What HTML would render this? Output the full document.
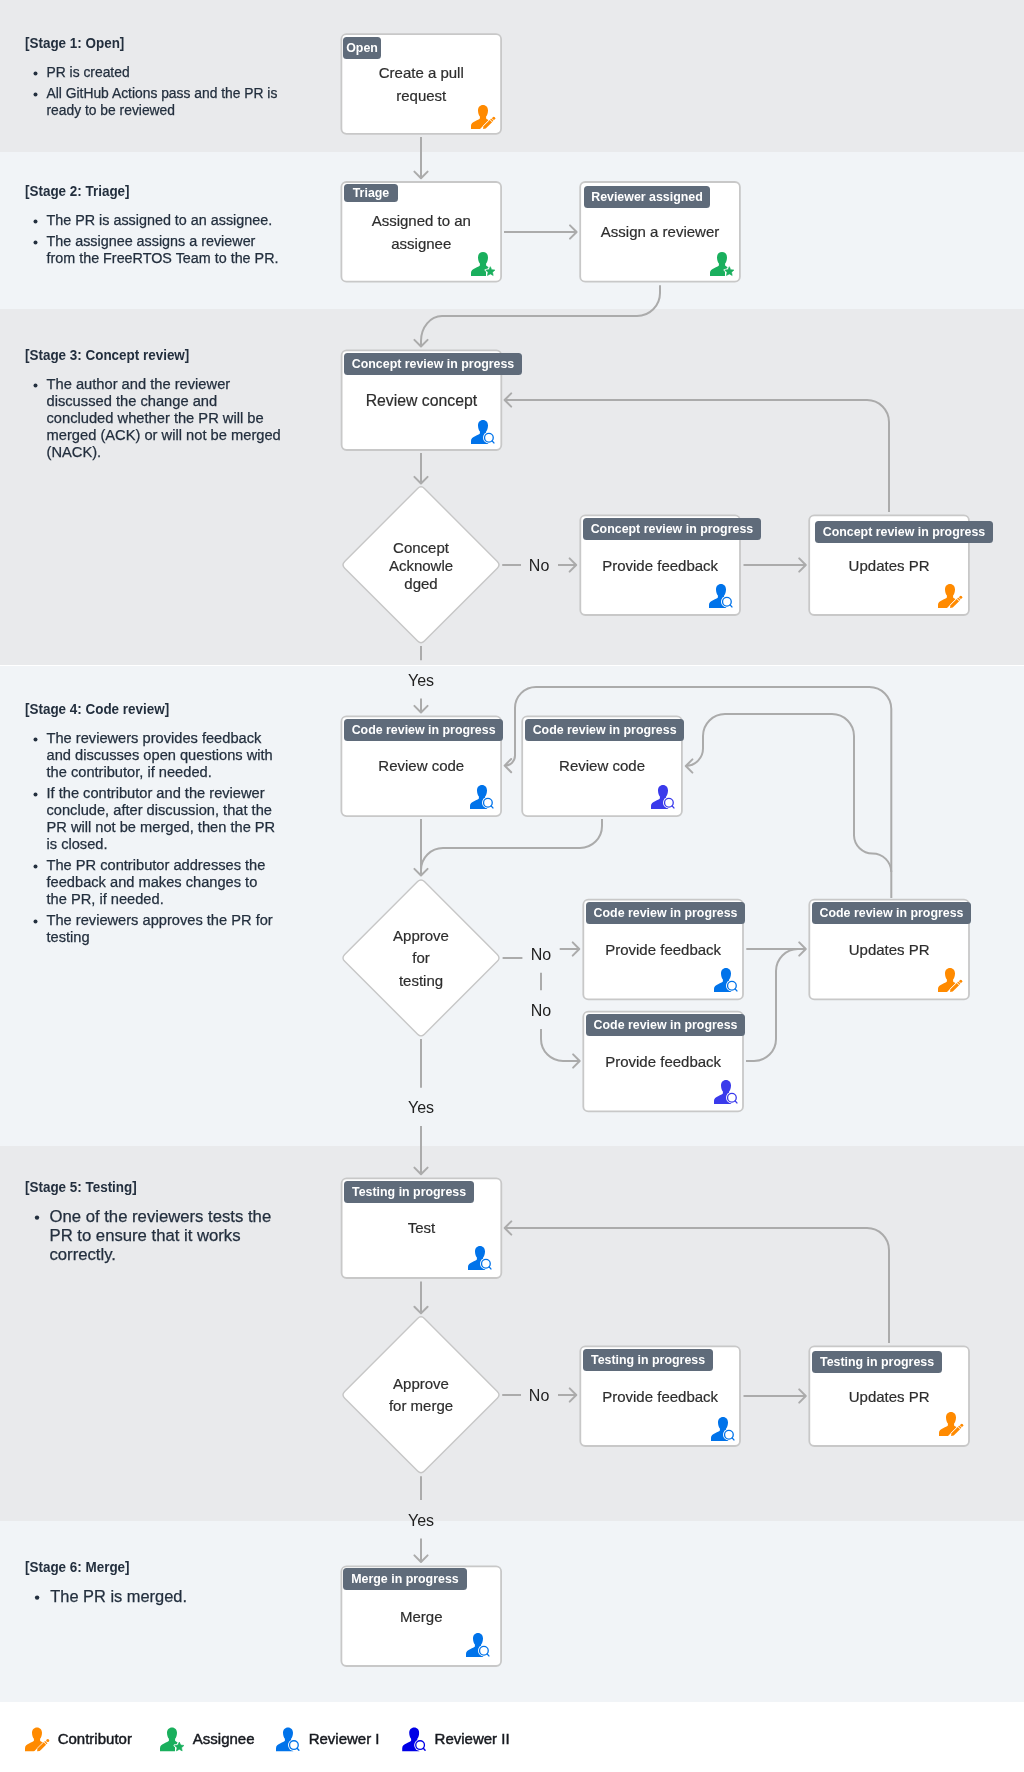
<!DOCTYPE html>
<html><head><meta charset="utf-8"><title>PR workflow</title>
<style>
html,body{margin:0;padding:0;}
body{width:1024px;height:1772px;position:relative;overflow:hidden;font-family:"Liberation Sans", sans-serif;background:#fff;}
.b{position:absolute;left:0;width:1024px;}
.t{position:absolute;white-space:nowrap;}
.bd{position:absolute;background:#5f6b7a;color:#fff;font-weight:bold;font-size:12.4px;text-align:center;border-radius:3.5px;white-space:nowrap;}
svg{position:absolute;left:0;top:0;}
.L{position:absolute;left:0;top:0;width:1024px;height:1772px;will-change:transform;}
</style></head><body>
<div class="L">
<div class="b" style="top:0px;height:152px;background:#e9eaec"></div>
<div class="b" style="top:152px;height:157px;background:#f1f4f7"></div>
<div class="b" style="top:309px;height:356px;background:#e9eaec"></div>
<div class="b" style="top:665px;height:1px;background:#ffffff"></div>
<div class="b" style="top:666px;height:480px;background:#f1f4f7"></div>
<div class="b" style="top:1146px;height:375px;background:#e9eaec"></div>
<div class="b" style="top:1521px;height:181px;background:#f1f4f7"></div>
<div class="b" style="top:1702px;height:70px;background:#ffffff"></div>
<div class="t" style="left:25.00px;top:33px;font-size:14.3px;line-height:20px;color:#232f3e;font-weight:bold;transform:scaleX(0.94);transform-origin:0 0;">[Stage 1: Open]</div>
<div class="t" style="left:46.50px;top:62px;font-size:13.85px;line-height:20px;color:#232f3e;font-weight:normal;white-space:nowrap;-webkit-text-stroke:0.25px #232f3e;">PR is created</div>
<div class="t" style="left:46.50px;top:83px;font-size:13.85px;line-height:20px;color:#232f3e;font-weight:normal;white-space:nowrap;-webkit-text-stroke:0.25px #232f3e;">All GitHub Actions pass and the PR is</div>
<div class="t" style="left:46.50px;top:100px;font-size:13.85px;line-height:20px;color:#232f3e;font-weight:normal;white-space:nowrap;-webkit-text-stroke:0.25px #232f3e;">ready to be reviewed</div>
<div class="t" style="left:25.00px;top:181px;font-size:14.3px;line-height:20px;color:#232f3e;font-weight:bold;transform:scaleX(0.94);transform-origin:0 0;">[Stage 2: Triage]</div>
<div class="t" style="left:46.50px;top:210px;font-size:14.35px;line-height:20px;color:#232f3e;font-weight:normal;white-space:nowrap;-webkit-text-stroke:0.25px #232f3e;">The PR is assigned to an assignee.</div>
<div class="t" style="left:46.50px;top:231px;font-size:14.35px;line-height:20px;color:#232f3e;font-weight:normal;white-space:nowrap;-webkit-text-stroke:0.25px #232f3e;">The assignee assigns a reviewer</div>
<div class="t" style="left:46.50px;top:248px;font-size:14.35px;line-height:20px;color:#232f3e;font-weight:normal;white-space:nowrap;-webkit-text-stroke:0.25px #232f3e;">from the FreeRTOS Team to the PR.</div>
<div class="t" style="left:25.00px;top:345px;font-size:14.3px;line-height:20px;color:#232f3e;font-weight:bold;transform:scaleX(0.94);transform-origin:0 0;">[Stage 3: Concept review]</div>
<div class="t" style="left:46.50px;top:374px;font-size:14.7px;line-height:20px;color:#232f3e;font-weight:normal;white-space:nowrap;-webkit-text-stroke:0.25px #232f3e;">The author and the reviewer</div>
<div class="t" style="left:46.50px;top:391px;font-size:14.7px;line-height:20px;color:#232f3e;font-weight:normal;white-space:nowrap;-webkit-text-stroke:0.25px #232f3e;">discussed the change and</div>
<div class="t" style="left:46.50px;top:408px;font-size:14.7px;line-height:20px;color:#232f3e;font-weight:normal;white-space:nowrap;-webkit-text-stroke:0.25px #232f3e;">concluded whether the PR will be</div>
<div class="t" style="left:46.50px;top:425px;font-size:14.7px;line-height:20px;color:#232f3e;font-weight:normal;white-space:nowrap;-webkit-text-stroke:0.25px #232f3e;">merged (ACK) or will not be merged</div>
<div class="t" style="left:46.50px;top:442px;font-size:14.7px;line-height:20px;color:#232f3e;font-weight:normal;white-space:nowrap;-webkit-text-stroke:0.25px #232f3e;">(NACK).</div>
<div class="t" style="left:25.00px;top:699px;font-size:14.3px;line-height:20px;color:#232f3e;font-weight:bold;transform:scaleX(0.94);transform-origin:0 0;">[Stage 4: Code review]</div>
<div class="t" style="left:46.50px;top:728px;font-size:14.65px;line-height:20px;color:#232f3e;font-weight:normal;white-space:nowrap;-webkit-text-stroke:0.25px #232f3e;">The reviewers provides feedback</div>
<div class="t" style="left:46.50px;top:745px;font-size:14.65px;line-height:20px;color:#232f3e;font-weight:normal;white-space:nowrap;-webkit-text-stroke:0.25px #232f3e;">and discusses open questions with</div>
<div class="t" style="left:46.50px;top:762px;font-size:14.65px;line-height:20px;color:#232f3e;font-weight:normal;white-space:nowrap;-webkit-text-stroke:0.25px #232f3e;">the contributor, if needed.</div>
<div class="t" style="left:46.50px;top:783px;font-size:14.65px;line-height:20px;color:#232f3e;font-weight:normal;white-space:nowrap;-webkit-text-stroke:0.25px #232f3e;">If the contributor and the reviewer</div>
<div class="t" style="left:46.50px;top:800px;font-size:14.65px;line-height:20px;color:#232f3e;font-weight:normal;white-space:nowrap;-webkit-text-stroke:0.25px #232f3e;">conclude, after discussion, that the</div>
<div class="t" style="left:46.50px;top:817px;font-size:14.65px;line-height:20px;color:#232f3e;font-weight:normal;white-space:nowrap;-webkit-text-stroke:0.25px #232f3e;">PR will not be merged, then the PR</div>
<div class="t" style="left:46.50px;top:834px;font-size:14.65px;line-height:20px;color:#232f3e;font-weight:normal;white-space:nowrap;-webkit-text-stroke:0.25px #232f3e;">is closed.</div>
<div class="t" style="left:46.50px;top:855px;font-size:14.65px;line-height:20px;color:#232f3e;font-weight:normal;white-space:nowrap;-webkit-text-stroke:0.25px #232f3e;">The PR contributor addresses the</div>
<div class="t" style="left:46.50px;top:872px;font-size:14.65px;line-height:20px;color:#232f3e;font-weight:normal;white-space:nowrap;-webkit-text-stroke:0.25px #232f3e;">feedback and makes changes to</div>
<div class="t" style="left:46.50px;top:889px;font-size:14.65px;line-height:20px;color:#232f3e;font-weight:normal;white-space:nowrap;-webkit-text-stroke:0.25px #232f3e;">the PR, if needed.</div>
<div class="t" style="left:46.50px;top:910px;font-size:14.65px;line-height:20px;color:#232f3e;font-weight:normal;white-space:nowrap;-webkit-text-stroke:0.25px #232f3e;">The reviewers approves the PR for</div>
<div class="t" style="left:46.50px;top:927px;font-size:14.65px;line-height:20px;color:#232f3e;font-weight:normal;white-space:nowrap;-webkit-text-stroke:0.25px #232f3e;">testing</div>
<div class="t" style="left:25.00px;top:1177px;font-size:14.3px;line-height:20px;color:#232f3e;font-weight:bold;transform:scaleX(0.94);transform-origin:0 0;">[Stage 5: Testing]</div>
<div class="t" style="left:49.50px;top:1207px;font-size:16.7px;line-height:20px;color:#232f3e;font-weight:normal;white-space:nowrap;-webkit-text-stroke:0.25px #232f3e;">One of the reviewers tests the</div>
<div class="t" style="left:49.50px;top:1226px;font-size:16.7px;line-height:20px;color:#232f3e;font-weight:normal;white-space:nowrap;-webkit-text-stroke:0.25px #232f3e;">PR to ensure that it works</div>
<div class="t" style="left:49.50px;top:1245px;font-size:16.7px;line-height:20px;color:#232f3e;font-weight:normal;white-space:nowrap;-webkit-text-stroke:0.25px #232f3e;">correctly.</div>
<div class="t" style="left:25.00px;top:1557px;font-size:14.3px;line-height:20px;color:#232f3e;font-weight:bold;transform:scaleX(0.94);transform-origin:0 0;">[Stage 6: Merge]</div>
<div class="t" style="left:50.30px;top:1586px;font-size:16.4px;line-height:20px;color:#232f3e;font-weight:normal;white-space:nowrap;-webkit-text-stroke:0.25px #232f3e;">The PR is merged.</div>
</div>
<svg width="1024" height="1772" viewBox="0 0 1024 1772">

<defs>
<clipPath id="clipc"><path d="M-1.00 -1.00 L34.02 -1.00 L-1.00 34.02 Z"/></clipPath>
<clipPath id="clipa"><path d="M-1 -1 L17.6 -1 L17.6 15.6 L15.0 18.2 L15.0 25 L-1 25 Z"/></clipPath>
<clipPath id="clipr"><path d="M-1 -1 L17.2 -1 L17.2 25 L-1 25 Z"/></clipPath>
<g id="ic-c">
  <path clip-path="url(#clipc)" d="M12 0 C15.1 0 17 2.3 17 5.4 C17 7.9 16.2 10.2 15.1 11.4 L15.1 13.4 C16.2 14.3 17.5 15 19.5 15.9 C22.3 17 24 18.8 24 21.2 L24 23.9 L0 23.9 L0 20.8 C0 18.4 1.7 17 4.5 15.9 C6.5 15 7.8 14.3 8.9 13.4 L8.9 11.4 C7.8 10.2 7 7.9 7 5.4 C7 2.3 8.9 0 12 0 Z"/>
  <path d="M12.06 23.94 L12.45 21.21 L21.43 12.23 L23.76 14.57 L14.78 23.55 Z" fill="#ffffff" stroke="#ffffff" stroke-width="1.3" stroke-linejoin="round"/>
  <path d="M12.06 23.94 L12.45 21.21 L18.74 14.92 L21.07 17.25 L14.78 23.55 Z"/>
  <path d="M19.20 14.46 L20.12 13.54 L22.45 15.87 L21.53 16.79 Z"/>
  <circle cx="22.77" cy="13.22" r="1.5"/>
</g>
<g id="ic-a">
  <path clip-path="url(#clipa)" d="M12 0 C15.1 0 17 2.3 17 5.4 C17 7.9 16.2 10.2 15.1 11.4 L15.1 13.4 C16.2 14.3 17.5 15 19.5 15.9 C22.3 17 24 18.8 24 21.2 L24 23.9 L0 23.9 L0 20.8 C0 18.4 1.7 17 4.5 15.9 C6.5 15 7.8 14.3 8.9 13.4 L8.9 11.4 C7.8 10.2 7 7.9 7 5.4 C7 2.3 8.9 0 12 0 Z"/>
  <path d="M19.30 14.65 L20.68 17.65 L23.96 18.04 L21.53 20.28 L22.18 23.51 L19.30 21.90 L16.42 23.51 L17.07 20.28 L14.64 18.04 L17.92 17.65 Z" fill="#ffffff" stroke="#ffffff" stroke-width="2.2" stroke-linejoin="round"/>
  <path d="M19.30 14.65 L20.68 17.65 L23.96 18.04 L21.53 20.28 L22.18 23.51 L19.30 21.90 L16.42 23.51 L17.07 20.28 L14.64 18.04 L17.92 17.65 Z" stroke-width="0.6" stroke-linejoin="round" class="st"/>
</g>
<g id="ic-r">
  <path clip-path="url(#clipr)" d="M12 0 C15.1 0 17 2.3 17 5.4 C17 7.9 16.2 10.2 15.1 11.4 L15.1 13.4 C16.2 14.3 17.5 15 19.5 15.9 C22.3 17 24 18.8 24 21.2 L24 23.9 L0 23.9 L0 20.8 C0 18.4 1.7 17 4.5 15.9 C6.5 15 7.8 14.3 8.9 13.4 L8.9 11.4 C7.8 10.2 7 7.9 7 5.4 C7 2.3 8.9 0 12 0 Z"/>
  <circle cx="17.9" cy="17.7" r="5.9" fill="#ffffff"/>
  <circle cx="17.9" cy="17.7" r="4.35" fill="none" class="st" stroke-width="1.3"/>
  <path d="M21.1 20.9 L22.9 22.9" class="st" stroke-width="1.4" stroke-linecap="round"/>
</g>
</defs>

<circle cx="35.50" cy="73.40" r="2.0" fill="#232f3e"/>
<circle cx="35.50" cy="94.40" r="2.0" fill="#232f3e"/>
<circle cx="35.50" cy="221.40" r="2.0" fill="#232f3e"/>
<circle cx="35.50" cy="242.40" r="2.0" fill="#232f3e"/>
<circle cx="35.50" cy="385.40" r="2.0" fill="#232f3e"/>
<circle cx="35.50" cy="739.40" r="2.0" fill="#232f3e"/>
<circle cx="35.50" cy="794.40" r="2.0" fill="#232f3e"/>
<circle cx="35.50" cy="866.40" r="2.0" fill="#232f3e"/>
<circle cx="35.50" cy="921.40" r="2.0" fill="#232f3e"/>
<circle cx="37.00" cy="1217.60" r="2.2" fill="#232f3e"/>
<circle cx="37.10" cy="1597.60" r="2.2" fill="#232f3e"/>
<rect x="341.40" y="34.10" width="159.70" height="99.70" rx="5" ry="5" fill="#ffffff" stroke="#c8c8c8" stroke-width="1.8"/>
<rect x="341.40" y="182.00" width="159.70" height="99.70" rx="5" ry="5" fill="#ffffff" stroke="#c8c8c8" stroke-width="1.8"/>
<rect x="580.20" y="182.00" width="159.70" height="99.70" rx="5" ry="5" fill="#ffffff" stroke="#c8c8c8" stroke-width="1.8"/>
<rect x="341.60" y="350.30" width="159.70" height="99.70" rx="5" ry="5" fill="#ffffff" stroke="#c8c8c8" stroke-width="1.8"/>
<rect x="580.30" y="515.30" width="159.70" height="99.70" rx="5" ry="5" fill="#ffffff" stroke="#c8c8c8" stroke-width="1.8"/>
<rect x="809.20" y="515.30" width="159.70" height="99.70" rx="5" ry="5" fill="#ffffff" stroke="#c8c8c8" stroke-width="1.8"/>
<rect x="341.40" y="716.40" width="159.70" height="99.70" rx="5" ry="5" fill="#ffffff" stroke="#c8c8c8" stroke-width="1.8"/>
<rect x="522.20" y="716.40" width="159.70" height="99.70" rx="5" ry="5" fill="#ffffff" stroke="#c8c8c8" stroke-width="1.8"/>
<rect x="583.30" y="899.70" width="159.70" height="99.70" rx="5" ry="5" fill="#ffffff" stroke="#c8c8c8" stroke-width="1.8"/>
<rect x="809.30" y="899.70" width="159.70" height="99.70" rx="5" ry="5" fill="#ffffff" stroke="#c8c8c8" stroke-width="1.8"/>
<rect x="583.30" y="1011.70" width="159.70" height="99.70" rx="5" ry="5" fill="#ffffff" stroke="#c8c8c8" stroke-width="1.8"/>
<rect x="341.60" y="1178.30" width="159.70" height="99.70" rx="5" ry="5" fill="#ffffff" stroke="#c8c8c8" stroke-width="1.8"/>
<rect x="580.30" y="1346.30" width="159.70" height="99.70" rx="5" ry="5" fill="#ffffff" stroke="#c8c8c8" stroke-width="1.8"/>
<rect x="809.30" y="1346.30" width="159.70" height="99.70" rx="5" ry="5" fill="#ffffff" stroke="#c8c8c8" stroke-width="1.8"/>
<rect x="341.40" y="1566.30" width="159.70" height="99.70" rx="5" ry="5" fill="#ffffff" stroke="#c8c8c8" stroke-width="1.8"/>
<path d="M417.61 488.49 Q421.00 485.10 424.39 488.49 L497.31 561.41 Q500.70 564.80 497.31 568.19 L424.39 641.11 Q421.00 644.50 417.61 641.11 L344.69 568.19 Q341.30 564.80 344.69 561.41 Z" fill="#ffffff" stroke="#c6c6c6" stroke-width="1.4"/>
<path d="M417.61 881.59 Q421.00 878.20 424.39 881.59 L497.31 954.51 Q500.70 957.90 497.31 961.29 L424.39 1034.21 Q421.00 1037.60 417.61 1034.21 L344.69 961.29 Q341.30 957.90 344.69 954.51 Z" fill="#ffffff" stroke="#c6c6c6" stroke-width="1.4"/>
<path d="M417.61 1318.49 Q421.00 1315.10 424.39 1318.49 L497.31 1391.41 Q500.70 1394.80 497.31 1398.19 L424.39 1471.11 Q421.00 1474.50 417.61 1471.11 L344.69 1398.19 Q341.30 1394.80 344.69 1391.41 Z" fill="#ffffff" stroke="#c6c6c6" stroke-width="1.4"/>
<path d="M421 137 V177.5" fill="none" stroke="#ababab" stroke-width="2"/>
<path d="M504 232 H576" fill="none" stroke="#ababab" stroke-width="2"/>
<path d="M660 285.3 V293 A23 23 0 0 1 637 316 H442 A21 25 0 0 0 421 341 V346" fill="none" stroke="#ababab" stroke-width="2"/>
<path d="M421 453 V483" fill="none" stroke="#ababab" stroke-width="2"/>
<path d="M502.2 565 H521" fill="none" stroke="#ababab" stroke-width="2"/>
<path d="M558 565 H575.8" fill="none" stroke="#ababab" stroke-width="2"/>
<path d="M743.5 565 H805.5" fill="none" stroke="#ababab" stroke-width="2"/>
<path d="M889 512 V422 A22 22 0 0 0 867 400 H505" fill="none" stroke="#ababab" stroke-width="2"/>
<path d="M421 646 V660.2" fill="none" stroke="#ababab" stroke-width="2"/>
<path d="M421 698.6 V712" fill="none" stroke="#ababab" stroke-width="2"/>
<path d="M421 819 V875" fill="none" stroke="#ababab" stroke-width="2"/>
<path d="M602 819 V826 A22 22 0 0 1 580 848 H443 A22 22 0 0 0 421 870 V875" fill="none" stroke="#ababab" stroke-width="2"/>
<path d="M891.3 898 V709 A22 22 0 0 0 869.3 687 H536 A21 21 0 0 0 515 708 V755.6 A10 10 0 0 1 505 765.6" fill="none" stroke="#ababab" stroke-width="2"/>
<path d="M891.3 872 A18.8 18.8 0 0 0 872.5 853.5 A18.5 18.5 0 0 1 854 835.5 V736 A22 22 0 0 0 832 714 H725 A22 22 0 0 0 703 736 V748.3 A17.5 17.5 0 0 1 686 766" fill="none" stroke="#ababab" stroke-width="2"/>
<path d="M502.6 958 H522.4" fill="none" stroke="#ababab" stroke-width="2"/>
<path d="M559.7 949 H579" fill="none" stroke="#ababab" stroke-width="2"/>
<path d="M541 972.8 V990.2" fill="none" stroke="#ababab" stroke-width="2"/>
<path d="M541 1029 V1039 A22 22 0 0 0 563 1061 H579.5" fill="none" stroke="#ababab" stroke-width="2"/>
<path d="M746.3 949 H805.5" fill="none" stroke="#ababab" stroke-width="2"/>
<path d="M746 1061 H754 A22 22 0 0 0 776 1039 V971 A22 22 0 0 1 798 949 H805.5" fill="none" stroke="#ababab" stroke-width="2"/>
<path d="M421 1039 V1087.7" fill="none" stroke="#ababab" stroke-width="2"/>
<path d="M421 1126 V1174" fill="none" stroke="#ababab" stroke-width="2"/>
<path d="M421 1281.4 V1313" fill="none" stroke="#ababab" stroke-width="2"/>
<path d="M502.2 1395 H521" fill="none" stroke="#ababab" stroke-width="2"/>
<path d="M558 1395 H576" fill="none" stroke="#ababab" stroke-width="2"/>
<path d="M743.5 1396 H805.5" fill="none" stroke="#ababab" stroke-width="2"/>
<path d="M889 1343 V1250 A22 22 0 0 0 867 1228 H505" fill="none" stroke="#ababab" stroke-width="2"/>
<path d="M421 1476.3 V1500" fill="none" stroke="#ababab" stroke-width="2"/>
<path d="M421 1538.6 V1561.6" fill="none" stroke="#ababab" stroke-width="2"/>
<path d="M414.40 171.60 L421 178.2 L427.60 171.60" fill="none" stroke="#ababab" stroke-width="2" stroke-linecap="round" stroke-linejoin="round"/>
<path d="M570.00 225.40 L576.6 232 L570.00 238.60" fill="none" stroke="#ababab" stroke-width="2" stroke-linecap="round" stroke-linejoin="round"/>
<path d="M414.40 339.90 L421 346.5 L427.60 339.90" fill="none" stroke="#ababab" stroke-width="2" stroke-linecap="round" stroke-linejoin="round"/>
<path d="M414.40 476.90 L421 483.5 L427.60 476.90" fill="none" stroke="#ababab" stroke-width="2" stroke-linecap="round" stroke-linejoin="round"/>
<path d="M569.60 558.40 L576.2 565 L569.60 571.60" fill="none" stroke="#ababab" stroke-width="2" stroke-linecap="round" stroke-linejoin="round"/>
<path d="M799.20 558.40 L805.8 565 L799.20 571.60" fill="none" stroke="#ababab" stroke-width="2" stroke-linecap="round" stroke-linejoin="round"/>
<path d="M511.20 393.40 L504.6 400 L511.20 406.60" fill="none" stroke="#ababab" stroke-width="2" stroke-linecap="round" stroke-linejoin="round"/>
<path d="M414.40 705.90 L421 712.5 L427.60 705.90" fill="none" stroke="#ababab" stroke-width="2" stroke-linecap="round" stroke-linejoin="round"/>
<path d="M414.40 868.90 L421 875.5 L427.60 868.90" fill="none" stroke="#ababab" stroke-width="2" stroke-linecap="round" stroke-linejoin="round"/>
<path d="M511.20 759.00 L504.6 765.6 L511.20 772.20" fill="none" stroke="#ababab" stroke-width="2" stroke-linecap="round" stroke-linejoin="round"/>
<path d="M692.40 759.40 L685.8 766 L692.40 772.60" fill="none" stroke="#ababab" stroke-width="2" stroke-linecap="round" stroke-linejoin="round"/>
<path d="M572.70 942.40 L579.3 949 L572.70 955.60" fill="none" stroke="#ababab" stroke-width="2" stroke-linecap="round" stroke-linejoin="round"/>
<path d="M573.10 1054.40 L579.7 1061 L573.10 1067.60" fill="none" stroke="#ababab" stroke-width="2" stroke-linecap="round" stroke-linejoin="round"/>
<path d="M799.20 942.40 L805.8 949 L799.20 955.60" fill="none" stroke="#ababab" stroke-width="2" stroke-linecap="round" stroke-linejoin="round"/>
<path d="M414.40 1167.60 L421 1174.2 L427.60 1167.60" fill="none" stroke="#ababab" stroke-width="2" stroke-linecap="round" stroke-linejoin="round"/>
<path d="M414.40 1306.80 L421 1313.4 L427.60 1306.80" fill="none" stroke="#ababab" stroke-width="2" stroke-linecap="round" stroke-linejoin="round"/>
<path d="M569.70 1388.40 L576.3 1395 L569.70 1401.60" fill="none" stroke="#ababab" stroke-width="2" stroke-linecap="round" stroke-linejoin="round"/>
<path d="M799.20 1389.40 L805.8 1396 L799.20 1402.60" fill="none" stroke="#ababab" stroke-width="2" stroke-linecap="round" stroke-linejoin="round"/>
<path d="M511.30 1221.40 L504.7 1228 L511.30 1234.60" fill="none" stroke="#ababab" stroke-width="2" stroke-linecap="round" stroke-linejoin="round"/>
<path d="M414.40 1555.40 L421 1562 L427.60 1555.40" fill="none" stroke="#ababab" stroke-width="2" stroke-linecap="round" stroke-linejoin="round"/>
<use href="#ic-c" x="471" y="105" fill="#ff8a00" stroke="#ff8a00" stroke-width="0" style="color:#ff8a00"/>
<use href="#ic-a" x="471" y="252" fill="#1aaf5d" stroke="#1aaf5d" stroke-width="0" style="color:#1aaf5d"/>
<use href="#ic-a" x="710" y="252" fill="#1aaf5d" stroke="#1aaf5d" stroke-width="0" style="color:#1aaf5d"/>
<use href="#ic-r" x="471" y="420" fill="#0073ea" stroke="#0073ea" stroke-width="0" style="color:#0073ea"/>
<use href="#ic-r" x="709" y="584" fill="#0073ea" stroke="#0073ea" stroke-width="0" style="color:#0073ea"/>
<use href="#ic-c" x="938" y="584" fill="#ff8a00" stroke="#ff8a00" stroke-width="0" style="color:#ff8a00"/>
<use href="#ic-r" x="470" y="785" fill="#0073ea" stroke="#0073ea" stroke-width="0" style="color:#0073ea"/>
<use href="#ic-r" x="651" y="785" fill="#3a3aeb" stroke="#3a3aeb" stroke-width="0" style="color:#3a3aeb"/>
<use href="#ic-r" x="714" y="968" fill="#0073ea" stroke="#0073ea" stroke-width="0" style="color:#0073ea"/>
<use href="#ic-c" x="938" y="968" fill="#ff8a00" stroke="#ff8a00" stroke-width="0" style="color:#ff8a00"/>
<use href="#ic-r" x="714" y="1080" fill="#3a3aeb" stroke="#3a3aeb" stroke-width="0" style="color:#3a3aeb"/>
<use href="#ic-r" x="468" y="1246" fill="#0073ea" stroke="#0073ea" stroke-width="0" style="color:#0073ea"/>
<use href="#ic-r" x="711" y="1417" fill="#0073ea" stroke="#0073ea" stroke-width="0" style="color:#0073ea"/>
<use href="#ic-c" x="939" y="1412" fill="#ff8a00" stroke="#ff8a00" stroke-width="0" style="color:#ff8a00"/>
<use href="#ic-r" x="466" y="1633" fill="#0073ea" stroke="#0073ea" stroke-width="0" style="color:#0073ea"/>
<use href="#ic-c" x="25.0" y="1727.4" fill="#ff8a00" stroke="#ff8a00" stroke-width="0" style="color:#ff8a00"/>
<use href="#ic-a" x="160.0" y="1727.4" fill="#1aaf5d" stroke="#1aaf5d" stroke-width="0" style="color:#1aaf5d"/>
<use href="#ic-r" x="276.0" y="1727.4" fill="#0073ea" stroke="#0073ea" stroke-width="0" style="color:#0073ea"/>
<use href="#ic-r" x="402.2" y="1727.4" fill="#0000e6" stroke="#0000e6" stroke-width="0" style="color:#0000e6"/>
</svg>
<div class="L">
<div class="bd" style="left:343.20px;top:36.90px;width:37.70px;height:21.10px;padding-top:0.8px;line-height:21.90px">Open</div>
<div class="t" style="left:221.25px;top:63px;width:400px;text-align:center;font-size:15px;line-height:20px;color:#2d2d2d;font-weight:normal;-webkit-text-stroke:0.2px #2d2d2d;">Create a pull</div>
<div class="t" style="left:221.25px;top:86px;width:400px;text-align:center;font-size:15px;line-height:20px;color:#2d2d2d;font-weight:normal;-webkit-text-stroke:0.2px #2d2d2d;">request</div>
<div class="bd" style="left:344.10px;top:184.10px;width:53.80px;height:16.90px;padding-top:0.8px;line-height:17.70px">Triage</div>
<div class="t" style="left:221.25px;top:211px;width:400px;text-align:center;font-size:15px;line-height:20px;color:#2d2d2d;font-weight:normal;-webkit-text-stroke:0.2px #2d2d2d;">Assigned to an</div>
<div class="t" style="left:221.25px;top:234px;width:400px;text-align:center;font-size:15px;line-height:20px;color:#2d2d2d;font-weight:normal;-webkit-text-stroke:0.2px #2d2d2d;">assignee</div>
<div class="bd" style="left:583.90px;top:185.90px;width:126.20px;height:21.10px;padding-top:0.8px;line-height:21.90px">Reviewer assigned</div>
<div class="t" style="left:460.05px;top:222px;width:400px;text-align:center;font-size:15px;line-height:20px;color:#2d2d2d;font-weight:normal;-webkit-text-stroke:0.2px #2d2d2d;">Assign a reviewer</div>
<div class="bd" style="left:344.20px;top:353.10px;width:177.70px;height:20.90px;padding-top:0.8px;line-height:21.70px">Concept review in progress</div>
<div class="t" style="left:221.45px;top:391px;width:400px;text-align:center;font-size:15.8px;line-height:20px;color:#2d2d2d;font-weight:normal;-webkit-text-stroke:0.2px #2d2d2d;">Review concept</div>
<div class="bd" style="left:583.10px;top:518.10px;width:177.70px;height:20.90px;padding-top:0.8px;line-height:21.70px">Concept review in progress</div>
<div class="t" style="left:460.15px;top:556px;width:400px;text-align:center;font-size:15px;line-height:20px;color:#2d2d2d;font-weight:normal;-webkit-text-stroke:0.2px #2d2d2d;">Provide feedback</div>
<div class="bd" style="left:815.00px;top:521.20px;width:178.00px;height:20.70px;padding-top:0.8px;line-height:21.50px">Concept review in progress</div>
<div class="t" style="left:689.05px;top:556px;width:400px;text-align:center;font-size:15px;line-height:20px;color:#2d2d2d;font-weight:normal;-webkit-text-stroke:0.2px #2d2d2d;">Updates PR</div>
<div class="bd" style="left:344.20px;top:719.00px;width:158.80px;height:20.90px;padding-top:0.8px;line-height:21.70px">Code review in progress</div>
<div class="t" style="left:221.25px;top:756px;width:400px;text-align:center;font-size:15px;line-height:20px;color:#2d2d2d;font-weight:normal;-webkit-text-stroke:0.2px #2d2d2d;">Review code</div>
<div class="bd" style="left:525.20px;top:719.00px;width:158.80px;height:20.90px;padding-top:0.8px;line-height:21.70px">Code review in progress</div>
<div class="t" style="left:402.05px;top:756px;width:400px;text-align:center;font-size:15px;line-height:20px;color:#2d2d2d;font-weight:normal;-webkit-text-stroke:0.2px #2d2d2d;">Review code</div>
<div class="bd" style="left:586.10px;top:902.10px;width:158.90px;height:20.70px;padding-top:0.8px;line-height:21.50px">Code review in progress</div>
<div class="t" style="left:463.15px;top:940px;width:400px;text-align:center;font-size:15px;line-height:20px;color:#2d2d2d;font-weight:normal;-webkit-text-stroke:0.2px #2d2d2d;">Provide feedback</div>
<div class="bd" style="left:812.10px;top:902.10px;width:158.80px;height:20.70px;padding-top:0.8px;line-height:21.50px">Code review in progress</div>
<div class="t" style="left:689.15px;top:940px;width:400px;text-align:center;font-size:15px;line-height:20px;color:#2d2d2d;font-weight:normal;-webkit-text-stroke:0.2px #2d2d2d;">Updates PR</div>
<div class="bd" style="left:586.10px;top:1014.10px;width:158.90px;height:20.70px;padding-top:0.8px;line-height:21.50px">Code review in progress</div>
<div class="t" style="left:463.15px;top:1052px;width:400px;text-align:center;font-size:15px;line-height:20px;color:#2d2d2d;font-weight:normal;-webkit-text-stroke:0.2px #2d2d2d;">Provide feedback</div>
<div class="bd" style="left:344.20px;top:1181.10px;width:129.80px;height:20.90px;padding-top:0.8px;line-height:21.70px">Testing in progress</div>
<div class="t" style="left:221.45px;top:1218px;width:400px;text-align:center;font-size:15px;line-height:20px;color:#2d2d2d;font-weight:normal;-webkit-text-stroke:0.2px #2d2d2d;">Test</div>
<div class="bd" style="left:583.10px;top:1349.10px;width:129.90px;height:20.90px;padding-top:0.8px;line-height:21.70px">Testing in progress</div>
<div class="t" style="left:460.15px;top:1387px;width:400px;text-align:center;font-size:15px;line-height:20px;color:#2d2d2d;font-weight:normal;-webkit-text-stroke:0.2px #2d2d2d;">Provide feedback</div>
<div class="bd" style="left:812.10px;top:1351.00px;width:129.90px;height:20.90px;padding-top:0.8px;line-height:21.70px">Testing in progress</div>
<div class="t" style="left:689.15px;top:1387px;width:400px;text-align:center;font-size:15px;line-height:20px;color:#2d2d2d;font-weight:normal;-webkit-text-stroke:0.2px #2d2d2d;">Updates PR</div>
<div class="bd" style="left:343.20px;top:1568.10px;width:123.60px;height:20.70px;padding-top:0.8px;line-height:21.50px">Merge in progress</div>
<div class="t" style="left:221.25px;top:1607px;width:400px;text-align:center;font-size:15px;line-height:20px;color:#2d2d2d;font-weight:normal;-webkit-text-stroke:0.2px #2d2d2d;">Merge</div>
<div class="t" style="left:221.00px;top:538px;width:400px;text-align:center;font-size:15px;line-height:20px;color:#2d2d2d;font-weight:normal;-webkit-text-stroke:0.2px #2d2d2d;">Concept</div>
<div class="t" style="left:221.00px;top:556px;width:400px;text-align:center;font-size:15px;line-height:20px;color:#2d2d2d;font-weight:normal;-webkit-text-stroke:0.2px #2d2d2d;">Acknowle</div>
<div class="t" style="left:221.00px;top:574px;width:400px;text-align:center;font-size:15px;line-height:20px;color:#2d2d2d;font-weight:normal;-webkit-text-stroke:0.2px #2d2d2d;">dged</div>
<div class="t" style="left:221.00px;top:926px;width:400px;text-align:center;font-size:15px;line-height:20px;color:#2d2d2d;font-weight:normal;-webkit-text-stroke:0.2px #2d2d2d;">Approve</div>
<div class="t" style="left:221.00px;top:948px;width:400px;text-align:center;font-size:15px;line-height:20px;color:#2d2d2d;font-weight:normal;-webkit-text-stroke:0.2px #2d2d2d;">for</div>
<div class="t" style="left:221.00px;top:971px;width:400px;text-align:center;font-size:15px;line-height:20px;color:#2d2d2d;font-weight:normal;-webkit-text-stroke:0.2px #2d2d2d;">testing</div>
<div class="t" style="left:221.00px;top:1374px;width:400px;text-align:center;font-size:15px;line-height:20px;color:#2d2d2d;font-weight:normal;-webkit-text-stroke:0.2px #2d2d2d;">Approve</div>
<div class="t" style="left:221.00px;top:1396px;width:400px;text-align:center;font-size:15px;line-height:20px;color:#2d2d2d;font-weight:normal;-webkit-text-stroke:0.2px #2d2d2d;">for merge</div>
<div class="t" style="left:339.10px;top:556px;width:400px;text-align:center;font-size:16px;line-height:20px;color:#222222;font-weight:normal;">No</div>
<div class="t" style="left:221.00px;top:671px;width:400px;text-align:center;font-size:16px;line-height:20px;color:#222222;font-weight:normal;">Yes</div>
<div class="t" style="left:341.00px;top:945px;width:400px;text-align:center;font-size:16px;line-height:20px;color:#222222;font-weight:normal;">No</div>
<div class="t" style="left:341.00px;top:1001px;width:400px;text-align:center;font-size:16px;line-height:20px;color:#222222;font-weight:normal;">No</div>
<div class="t" style="left:221.00px;top:1098px;width:400px;text-align:center;font-size:16px;line-height:20px;color:#222222;font-weight:normal;">Yes</div>
<div class="t" style="left:339.10px;top:1386px;width:400px;text-align:center;font-size:16px;line-height:20px;color:#222222;font-weight:normal;">No</div>
<div class="t" style="left:221.00px;top:1511px;width:400px;text-align:center;font-size:16px;line-height:20px;color:#222222;font-weight:normal;">Yes</div>
<div class="t" style="left:57.70px;top:1729px;font-size:15px;line-height:20px;color:#16191f;font-weight:normal;white-space:nowrap;-webkit-text-stroke:0.45px #16191f;">Contributor</div>
<div class="t" style="left:192.80px;top:1729px;font-size:15px;line-height:20px;color:#16191f;font-weight:normal;white-space:nowrap;-webkit-text-stroke:0.45px #16191f;">Assignee</div>
<div class="t" style="left:308.70px;top:1729px;font-size:15px;line-height:20px;color:#16191f;font-weight:normal;white-space:nowrap;-webkit-text-stroke:0.45px #16191f;">Reviewer I</div>
<div class="t" style="left:434.60px;top:1729px;font-size:15px;line-height:20px;color:#16191f;font-weight:normal;white-space:nowrap;-webkit-text-stroke:0.45px #16191f;">Reviewer II</div>
</div>
</body></html>
